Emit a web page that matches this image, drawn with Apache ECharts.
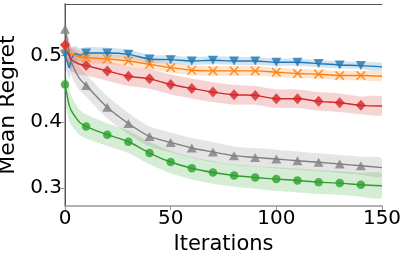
<!DOCTYPE html>
<html><head><meta charset="utf-8">
<script src="https://cdn.jsdelivr.net/npm/echarts@6/dist/echarts.min.js"></script>
<style>html,body{margin:0;padding:0;background:#fff}#c{width:407px;height:258px}</style>
</head><body><div id="c"></div>
<script>
const iters = [0,1,2,3,5,7,10,20,30,40,50,60,70,80,90,100,110,120,130,140,150];
const xTicks = [0,50,100,150];
const yTicks = [0.3,0.4,0.5];

const blueMean   = [0.502,0.492,0.482,0.495,0.503,0.501,0.504,0.504,0.502,0.495,0.494,0.492,0.493,0.492,0.492,0.490,0.490,0.488,0.486,0.485,0.483];
const blueErr    = [0.016,0.018,0.018,0.016,0.012,0.010,0.009,0.008,0.007,0.0065,0.0065,0.006,0.006,0.006,0.006,0.0055,0.0055,0.0055,0.0055,0.0055,0.0055];
const orangeMean = [0.512,0.505,0.500,0.502,0.500,0.498,0.497,0.495,0.492,0.487,0.482,0.478,0.477,0.477,0.477,0.475,0.473,0.472,0.470,0.470,0.469];
const orangeErr  = [0.018,0.017,0.015,0.013,0.011,0.010,0.009,0.008,0.0075,0.0075,0.0075,0.0075,0.0075,0.0075,0.0075,0.0072,0.0072,0.007,0.007,0.007,0.007];
const redMean    = [0.516,0.508,0.500,0.494,0.490,0.487,0.485,0.477,0.469,0.465,0.4565,0.4505,0.445,0.441,0.440,0.435,0.435,0.431,0.429,0.425,0.424];
const redErr     = [0.020,0.020,0.019,0.018,0.017,0.016,0.015,0.015,0.015,0.015,0.015,0.015,0.015,0.015,0.014,0.014,0.014,0.014,0.014,0.0135,0.0135];
const grayMean   = [0.540,0.525,0.505,0.490,0.476,0.465,0.455,0.422,0.3975,0.378,0.369,0.3606,0.3545,0.349,0.3464,0.344,0.3414,0.339,0.3364,0.3338,0.331];
const grayErr    = [0.020,0.020,0.020,0.020,0.019,0.018,0.017,0.017,0.016,0.015,0.015,0.015,0.015,0.014,0.014,0.014,0.014,0.0135,0.0135,0.0135,0.0135];
const greenMean  = [0.4565,0.440,0.425,0.417,0.407,0.399,0.393,0.3807,0.370,0.353,0.3394,0.330,0.3236,0.319,0.316,0.3136,0.3115,0.309,0.3076,0.305,0.3035];
const greenErr   = [0.025,0.025,0.024,0.022,0.020,0.019,0.018,0.017,0.017,0.017,0.017,0.017,0.017,0.017,0.017,0.018,0.018,0.018,0.018,0.018,0.018];

const seriesDefs = [
  {name:'A', color:'#1f77b4', mean:blueMean,   err:blueErr,   symbol:'triangle', rotate:180, size:[10,9]},
  {name:'B', color:'#ff7f0e', mean:orangeMean, err:orangeErr, symbol:'path://M4.3,0h1.4v4.3h4.3v1.4h-4.3v4.3h-1.4v-4.3h-4.3v-1.4h4.3z', rotate:45, size:12},
  {name:'E', color:'#7f7f7f', mean:grayMean,   err:grayErr,   symbol:'triangle', rotate:0, size:[10,9]},
  {name:'D', color:'#2ca02c', mean:greenMean,  err:greenErr,  symbol:'circle', rotate:0, size:8.5},
  {name:'C', color:'#d62728', mean:redMean,    err:redErr,    symbol:'diamond', rotate:0, size:[10,11]}
];

const series = [];
seriesDefs.forEach((d) => {
  series.push({type:'custom', silent:true, z:1, clip:true,
    data:[[0, d.mean[0]]],
    renderItem:function(params, api){
      const up = iters.map((x,i)=>api.coord([x, d.mean[i] + d.err[i]]));
      const lo = iters.map((x,i)=>api.coord([x, d.mean[i] - d.err[i]])).reverse();
      return {type:'group', children:[
        {type:'polygon', shape:{points: up.concat(lo), smooth:0.25}, style:{fill:d.color, opacity:0.2}}
      ]};
    }});
});
seriesDefs.forEach((d) => {
  series.push({type:'line', data:iters.map((x,i)=>[x,d.mean[i]]), symbol:'none', smooth:0.3,
    lineStyle:{color:d.color, width:1.4}, z:3});
  const marks = [];
  iters.forEach((x,i)=>{ if (x % 10 === 0 && x < 150) marks.push([x, d.mean[i]]); });
  series.push({type:'scatter', data:marks, symbol:d.symbol, symbolRotate:d.rotate, symbolSize:d.size,
    itemStyle:{color:d.color}, z:4});
});

const chart = echarts.init(document.getElementById('c'), null, {renderer:'canvas'});
chart.setOption({
  animation:false,
  grid:{left:65, right:25, top:4, bottom:52, outerBoundsMode:'none', containLabel:false},
  xAxis:[{type:'value', min:0, max:150, interval:50,
    name:'Iterations', nameLocation:'middle', nameGap:25,
    nameTextStyle:{fontSize:21, color:'#000', fontFamily:'DejaVu Sans', verticalAlign:'top'},
    axisLine:{lineStyle:{color:'#999', width:1.5}},
    axisTick:{length:4, lineStyle:{color:'#999'}},
    axisLabel:{fontSize:20, color:'#000', fontFamily:'DejaVu Sans', margin:3, formatter:v=>String(v)},
    splitLine:{show:false}},
   {type:'value', position:'top', min:0, max:150, axisLine:{lineStyle:{color:'#555', width:1}},
    axisTick:{show:false}, axisLabel:{show:false}, splitLine:{show:false}}],
  yAxis:[{type:'value', min:0.273, max:0.578,
    name:'Mean Regret', nameLocation:'middle', nameGap:40,
    nameTextStyle:{fontSize:22, color:'#000', fontFamily:'DejaVu Sans'},
    axisLine:{show:true, lineStyle:{color:'#999', width:1.5}},
    axisTick:{show:true, length:4, customValues:yTicks, lineStyle:{color:'#999'}},
    axisLabel:{fontSize:20, color:'#000', fontFamily:'DejaVu Sans', margin:3, customValues:yTicks, formatter:v=>v.toFixed(1)},
    splitLine:{show:false}},
   {type:'value', position:'right', min:0.273, max:0.578, axisLine:{show:true, lineStyle:{color:'#555', width:1}},
    axisTick:{show:false}, axisLabel:{show:false}, splitLine:{show:false}}],
  series: series
});
</script></body></html>
